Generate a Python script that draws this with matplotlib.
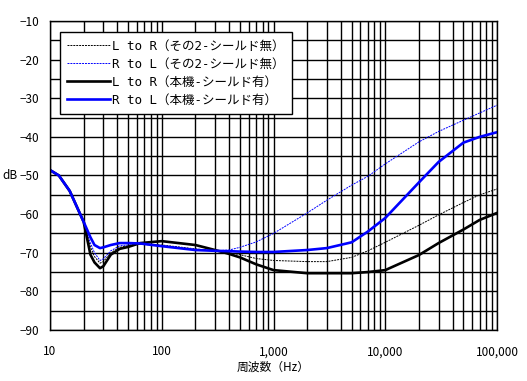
import matplotlib.pyplot as plt
from matplotlib.ticker import FixedLocator, LogLocator, NullFormatter

plt.rcParams['font.family'] = ['Noto Sans CJK JP', 'DejaVu Sans']

# frequencies (Hz)
freq = [10, 12, 15, 20, 23, 25, 28, 30, 35, 42, 50, 64, 100, 200, 300, 400, 500, 700,
        1000, 2000, 3000, 5000, 7000, 10000, 20000, 30000, 50000, 70000, 100000]

# L to R (その2 - no shield), thin dashed black
lr_other = [-48.6, -50, -54, -62, -68.5, -71, -72.7, -72.3, -70, -68.6, -68.2, -67.8,
            -68, -69, -69.5, -70, -70.5, -71.5, -72, -72.3, -72.3, -71.2, -69.5, -67.3,
            -62.9, -60.2, -57, -55, -53.5]
# R to L (その2 - no shield), thin dashed blue
rl_other = [-48.6, -50, -54, -62, -67.5, -70, -72, -71.6, -69.5, -68.2, -68, -67.8,
            -68.2, -69.2, -69.5, -69.3, -68.6, -67.2, -65, -59.7, -56.4, -52.5, -50.2,
            -47.0, -41.3, -38.6, -35.7, -33.8, -31.8]
# L to R (本機 - shielded), thick black
lr_this = [-48.6, -50, -54, -62, -70.5, -72.5, -74, -73.5, -70.5, -69, -68.5, -67.5,
           -67, -68, -69.3, -70.3, -71.2, -73, -74.5, -75.3, -75.3, -75.3, -75, -74.5,
           -70.6, -67.5, -64, -61.5, -59.7]
# R to L (本機 - shielded), thick blue
rl_this = [-48.6, -50, -54, -62, -66, -68, -68.8, -68.6, -68, -67.5, -67.5, -67.6,
           -68.3, -69.3, -69.5, -69.6, -69.7, -69.8, -69.8, -69.3, -68.8, -67.3, -64.5,
           -61, -51.8, -46.5, -41.5, -40, -38.8]

labels = ['L to R（その2-シールド無）', 'R to L（その2-シールド無）',
          'L to R（本機-シールド有）', 'R to L（本機-シールド有）']

fig = plt.figure(figsize=(5.27, 3.81), dpi=100)
ax = fig.add_axes([0.0949, 0.1339, 0.8482, 0.811])

ax.plot(freq, lr_other, color='black', lw=0.7, dashes=(2, 1), label=labels[0])
ax.plot(freq, rl_other, color='blue', lw=0.7, dashes=(2, 1), label=labels[1])
ax.plot(freq, lr_this, color='black', lw=1.9, label=labels[2])
ax.plot(freq, rl_this, color='blue', lw=1.9, label=labels[3])

ax.set_xscale('log')
ax.set_xlim(10, 100000)
ax.set_ylim(-90, -10)

ax.xaxis.set_major_locator(FixedLocator([10, 100, 1000, 10000, 100000]))
ax.set_xticklabels(['10', '100', '1,000', '10,000', '100,000'])
ax.xaxis.set_minor_locator(LogLocator(base=10, subs=range(2, 10)))
ax.xaxis.set_minor_formatter(NullFormatter())
ax.set_yticks(range(-90, -9, 10))
ax.set_yticks(range(-85, -10, 10), minor=True)

ax.grid(True, which='both', color='black', lw=1)
ax.tick_params(which='both', length=0, labelsize=8.5)
ax.tick_params(axis='y', pad=8)
ax.tick_params(axis='x', pad=11)
for s in ax.spines.values():
    s.set_color('black')
    s.set_linewidth(1)

ax.text(-0.072, 0.5, 'dB', transform=ax.transAxes, ha='right', va='center', fontsize=8.5)
ax.set_xlabel('周波数（Hz）', fontsize=8.5, labelpad=2)

leg = ax.legend(loc='upper left', bbox_to_anchor=(0.022, 0.964),
                prop={'family': ['DejaVu Sans Mono', 'Noto Sans CJK JP'], 'size': 9},
                fancybox=False, framealpha=1, edgecolor='black', handlelength=3.4,
                handletextpad=0.2, borderpad=0.6, labelspacing=0.4, borderaxespad=0)
leg.get_frame().set_linewidth(1)

fig.savefig('out.png', dpi=100)
